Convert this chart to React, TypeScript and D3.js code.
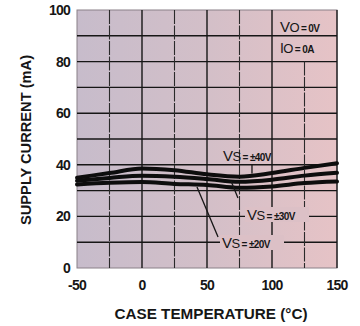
import React from "react";
import * as d3 from "d3";

const temps = [-50, -25, 0, 25, 50, 75, 100, 125, 150];
const vs40 = [35.0, 36.8, 38.6, 37.9, 36.3, 35.4, 36.8, 38.8, 40.6];
const vs30 = [33.8, 34.9, 35.8, 35.4, 34.5, 33.4, 34.2, 35.8, 36.9];
const vs20 = [32.4, 33.0, 33.3, 32.6, 32.2, 31.1, 31.6, 32.9, 33.5];
const xTicks = [-50, 0, 50, 100, 150];
const yTicks = [0, 20, 40, 60, 80, 100];
const xGrid = [-25, 0, 25, 50, 75, 100, 125];
const yGrid = [10, 20, 30, 40, 50, 60, 70, 80, 90];

const W = 360, H = 326;
const left = 77, right = 337, top = 10, bottom = 268;
const FONT = "'Liberation Sans', Arial, sans-serif";
const INK = "#161616";

export default function App() {
  const x = d3.scaleLinear().domain([-50, 150]).range([left, right]);
  const y = d3.scaleLinear().domain([0, 100]).range([bottom, top]);
  const line = d3
    .line<number>()
    .x((_, i) => x(temps[i]))
    .y((d) => y(d))
    .curve(d3.curveMonotoneX);

  const series = [vs40, vs30, vs20];

  const leaders: [number, number][][] = [
    [[84.6, 40.0], [84.6, 36.6]],
    [[68.5, 33.7], [73.8, 27.1]],
    [[42.3, 31.4], [58.5, 12.0]],
  ];

  const bg = "#dcc0c6";

  return (
    <svg width={W} height={H} style={{ position: "absolute", left: 0, top: 0 }}>
      <defs>
        <linearGradient id="plotbg" x1="0" x2="1" y1="0" y2="0">
          <stop offset="0" stopColor="#c7bccb" />
          <stop offset="0.5" stopColor="#d3bfc8" />
          <stop offset="1" stopColor="#e6c3c6" />
        </linearGradient>
      </defs>
      <rect x={left} y={top} width={right - left} height={bottom - top} fill="url(#plotbg)" stroke="#8a8088" strokeWidth={1} />
      {yGrid.map((v) => (
        <line key={"h" + v} x1={left} x2={right} y1={y(v)} y2={y(v)} stroke={INK} strokeWidth={1.4} />
      ))}
      {xGrid.map((t) => (
        <line
          key={"v" + t}
          x1={x(t)}
          x2={x(t)}
          y1={t === 125 ? y(80) : y(100)}
          y2={y(0)}
          stroke={t % 50 !== 0 ? "#2a2a2a" : INK}
          strokeWidth={t % 50 !== 0 ? 1.1 : 1.4}
          strokeDasharray={t % 50 !== 0 ? "14 1.5" : undefined}
        />
      ))}
      <line x1={right} x2={right} y1={top} y2={bottom} stroke={INK} strokeWidth={1.3} />

      {series.map((s, i) => (
        <path key={"s" + i} d={line(s) || ""} fill="none" stroke="#0d0d0d" strokeWidth={4} strokeLinecap="round" />
      ))}
      {leaders.map((pts, i) => (
        <line
          key={"l" + i}
          x1={x(pts[0][0])}
          y1={y(pts[0][1])}
          x2={x(pts[1][0])}
          y2={y(pts[1][1])}
          stroke={INK}
          strokeWidth={1.3}
        />
      ))}

      {/* series labels */}
      <rect x={245} y={207} width={64} height={15} fill={bg} />
      <rect x={220} y={235} width={64} height={15} fill={bg} />
      <g fontFamily={FONT} fill={INK} letterSpacing={-0.6}>
        <text x={223} y={161}>
          <tspan fontSize={15}>V</tspan>
          <tspan fontSize={13}>S</tspan>
          <tspan fontSize={10} fontWeight="bold" dx={2}>= ±40V</tspan>
        </text>
        <text x={247} y={220}>
          <tspan fontSize={15}>V</tspan>
          <tspan fontSize={13}>S</tspan>
          <tspan fontSize={10} fontWeight="bold" dx={2}>= ±30V</tspan>
        </text>
        <text x={222} y={248}>
          <tspan fontSize={15}>V</tspan>
          <tspan fontSize={13}>S</tspan>
          <tspan fontSize={10} fontWeight="bold" dx={2}>= ±20V</tspan>
        </text>
        <text x={280} y={32}>
          <tspan fontSize={15}>V</tspan>
          <tspan fontSize={13}>O</tspan>
          <tspan fontSize={10} fontWeight="bold" dx={2}>= 0V</tspan>
        </text>
        <text x={280} y={53}>
          <tspan fontSize={14}>I</tspan>
          <tspan fontSize={13}>O</tspan>
          <tspan fontSize={10} fontWeight="bold" dx={2}>= 0A</tspan>
        </text>
      </g>

      {/* ticks */}
      <g fontFamily={FONT} fontWeight="bold" fontSize={14} fill={INK} letterSpacing={-0.8}>
        {yTicks.map((v) => (
          <text key={"yt" + v} x={70} y={y(v)} dy="0.36em" textAnchor="end">
            {v}
          </text>
        ))}
        {xTicks.map((t) => (
          <text key={"xt" + t} x={x(t)} y={290} textAnchor="middle">
            {t}
          </text>
        ))}
      </g>
      <text
        x={211}
        y={319}
        textAnchor="middle"
        fontFamily={FONT}
        fontSize={14}
        fontWeight="bold"
        fill={INK}
        textLength={193}
        lengthAdjust="spacingAndGlyphs"
      >
        CASE TEMPERATURE (°C)
      </text>
      <text
        transform="translate(31,140) rotate(-90)"
        textAnchor="middle"
        fontFamily={FONT}
        fontSize={14}
        fontWeight="bold"
        fill={INK}
        textLength={170}
        lengthAdjust="spacingAndGlyphs"
      >
        SUPPLY CURRENT (mA)
      </text>
    </svg>
  );
}
